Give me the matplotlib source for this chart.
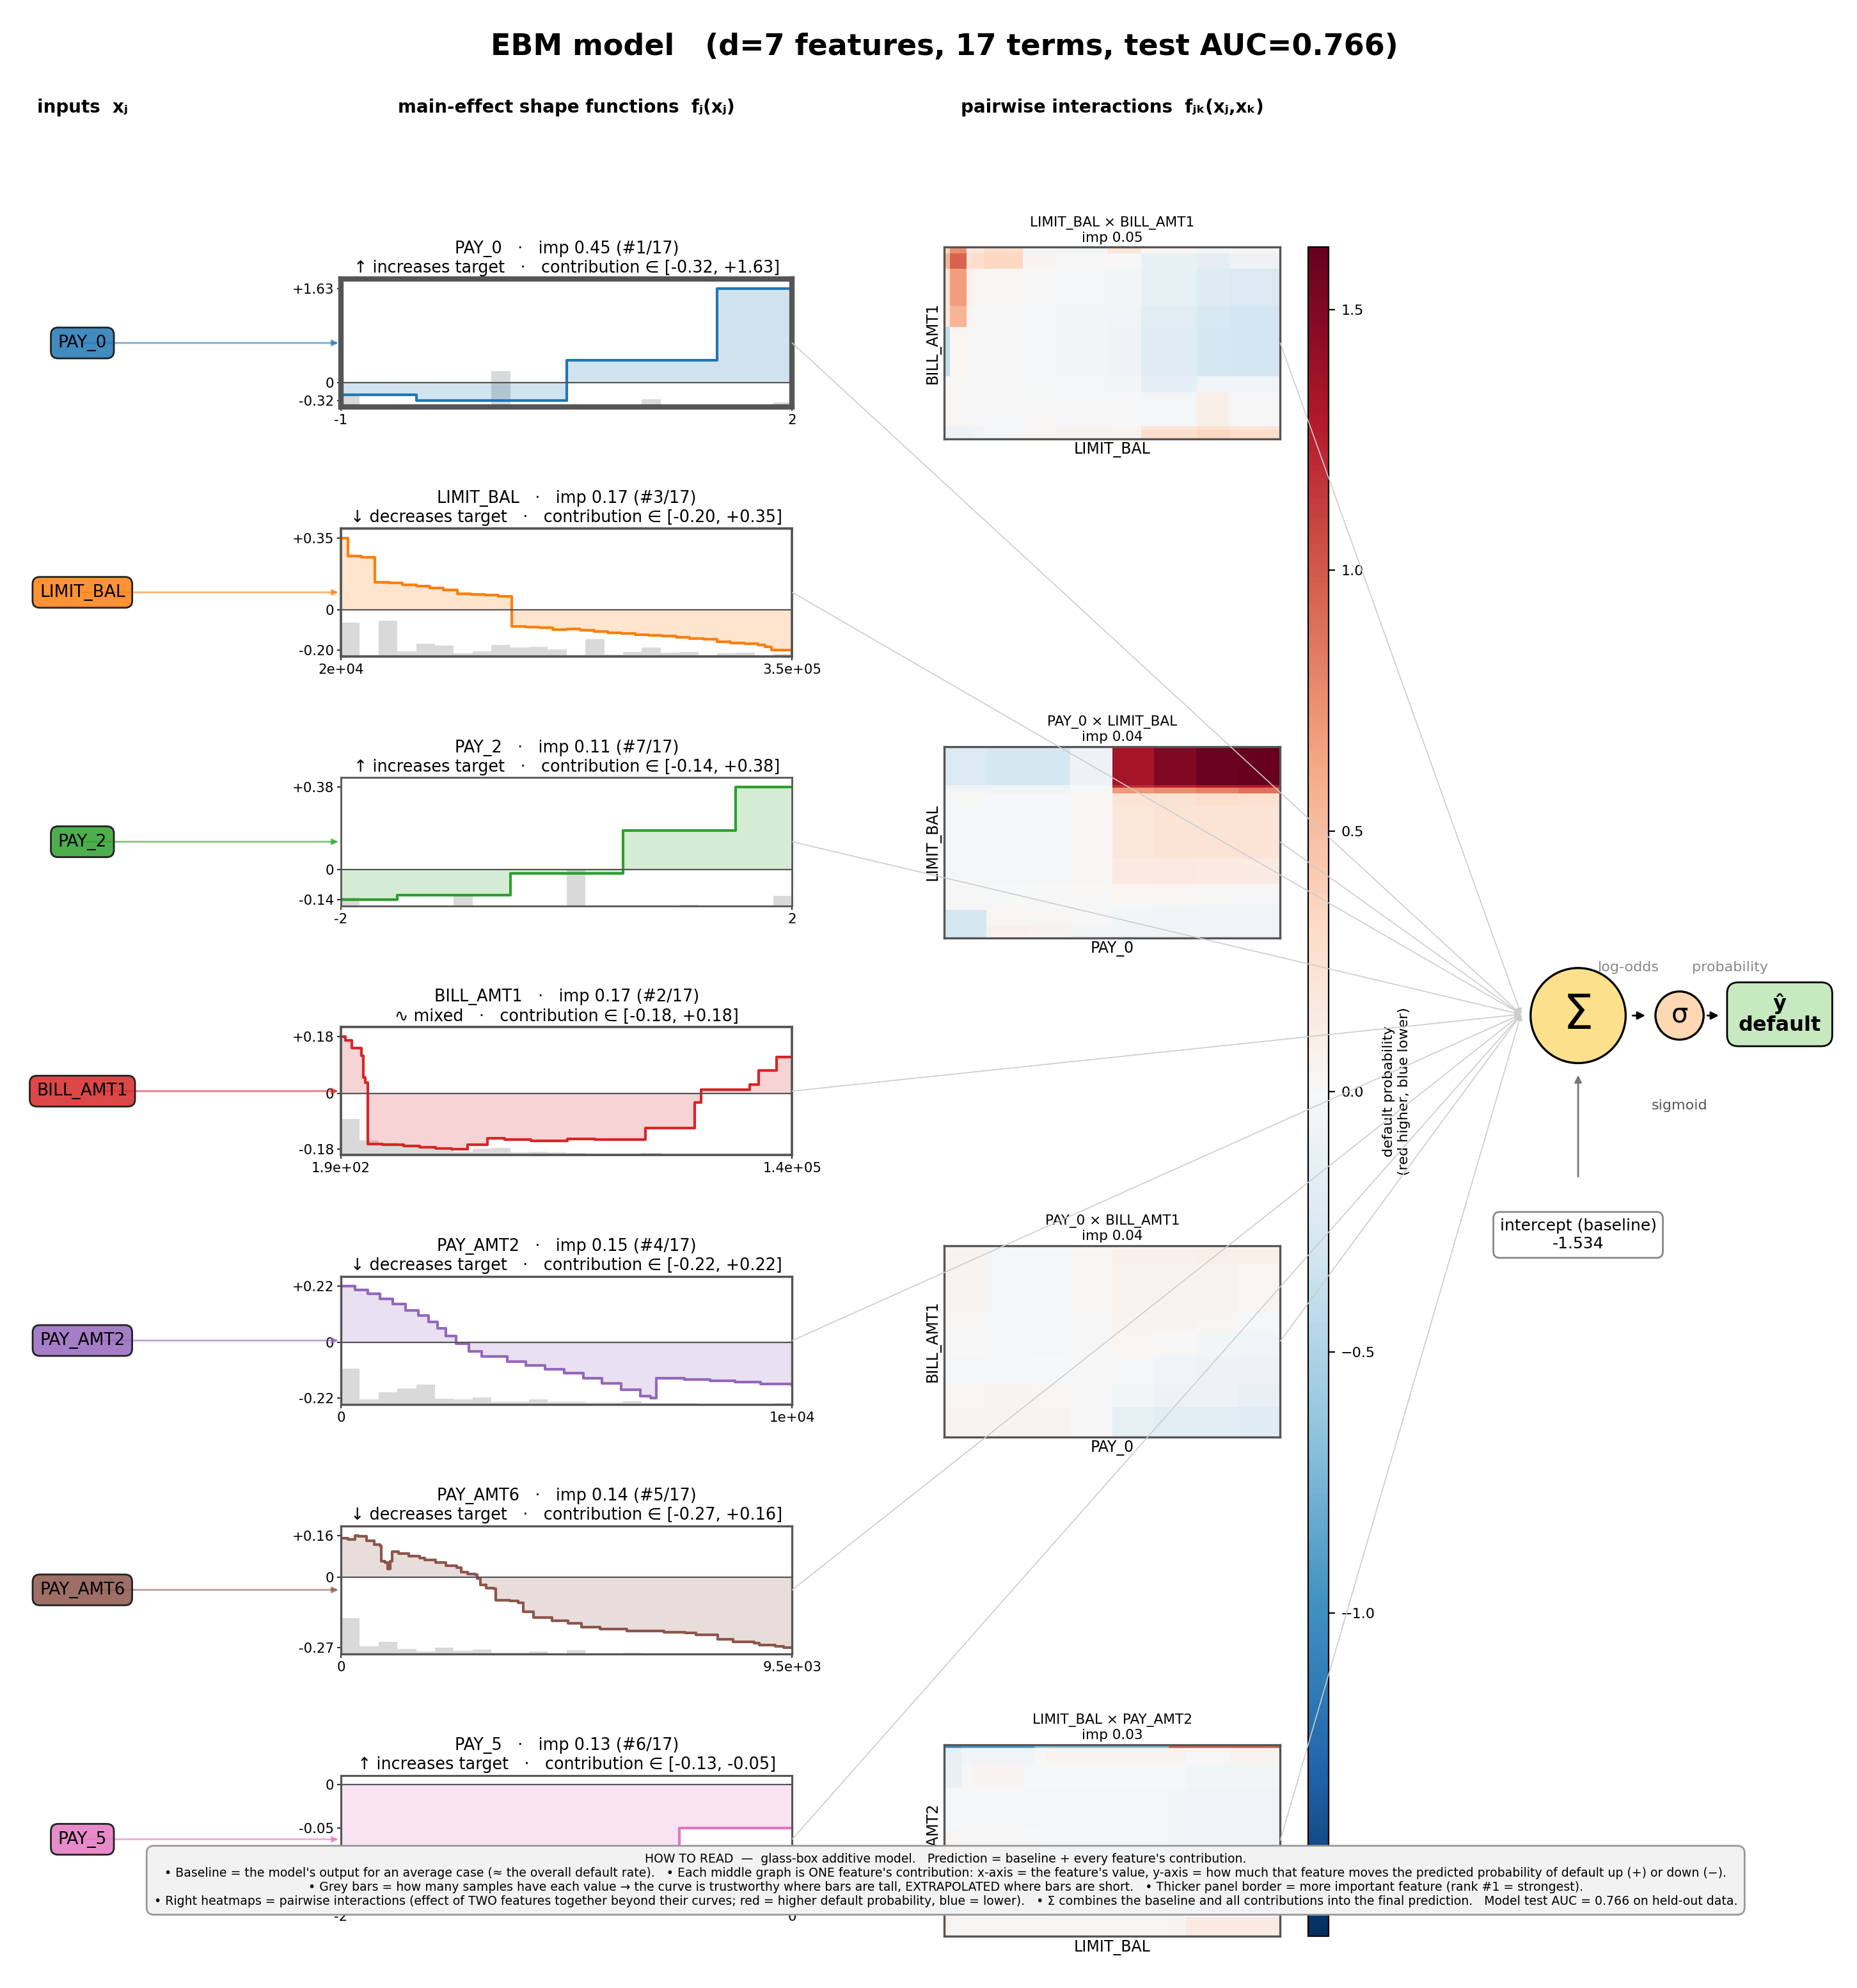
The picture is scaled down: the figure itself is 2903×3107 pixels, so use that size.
"""EBM glass-box diagram: inputs -> main-effect shape functions + pairwise heatmaps -> sum -> sigmoid."""
import numpy as np
import matplotlib
matplotlib.use("Agg")
import matplotlib.pyplot as plt
from matplotlib.patches import Circle
from matplotlib.colors import Normalize, to_rgba
from matplotlib.cm import ScalarMappable

# ---------------- data ----------------
N_TERMS = 17
AUC = 0.766
INTERCEPT = -1.534
FEATURES = ["PAY_0", "LIMIT_BAL", "PAY_2", "BILL_AMT1", "PAY_AMT2", "PAY_AMT6", "PAY_5"]
IMP = [0.45, 0.17, 0.11, 0.17, 0.15, 0.14, 0.13]
RANK = [1, 3, 7, 2, 4, 5, 6]
TREND = ["↑ increases target", "↓ decreases target", "↑ increases target", "∿ mixed",
         "↓ decreases target", "↓ decreases target", "↑ increases target"]
XRANGE = [(-1, 2), (2e4, 3.5e5), (-2, 2), (190, 1.4e5), (0, 1e4), (0, 9.5e3), (-2, 0)]

# shape functions: step start positions and contribution values (last value repeated at range end)
PAY_0_X = [-1, -0.5, 0.5, 1.5, 2]
PAY_0_Y = [-0.21, -0.32, 0.38, 1.63, 1.63]
LIMIT_BAL_X = [20000, 25000, 35000, 45000, 55000, 65000, 75000, 85000, 95000, 105000,
               115000, 125000, 135000, 145000, 155000, 165000, 175000, 185000, 195000, 205000,
               215000, 225000, 235000, 245000, 255000, 265000, 275000, 285000, 295000, 305000,
               315000, 325000, 330000, 335000, 350000]
LIMIT_BAL_Y = [0.35, 0.26, 0.255, 0.132, 0.13, 0.122, 0.114, 0.105, 0.095, 0.078,
               0.073, 0.070, 0.064, -0.082, -0.085, -0.088, -0.098, -0.093, -0.101, -0.106,
               -0.113, -0.117, -0.122, -0.126, -0.128, -0.134, -0.142, -0.145, -0.157, -0.164,
               -0.167, -0.173, -0.183, -0.198, -0.198]
PAY_2_X = [-2, -1.5, -0.5, 0.5, 1.5, 2]
PAY_2_Y = [-0.14, -0.12, -0.02, 0.18, 0.38, 0.38]
BILL_AMT1_X = [190, 1506, 3480, 6440, 7100, 7760, 8580, 13020, 19600, 24500, 29470, 34400,
               39340, 45600, 50850, 59080, 70270, 78800, 94450, 109700, 111700, 126800,
               129500, 135100, 140000]
BILL_AMT1_Y = [0.18, 0.168, 0.143, 0.12, 0.05, 0.035, -0.160, -0.163, -0.167, -0.171, -0.174, -0.176,
               -0.162, -0.142, -0.147, -0.151, -0.145, -0.147, -0.109, -0.028, 0.012, 0.029,
               0.073, 0.116, 0.116]
PAY_AMT2_X = [0, 309, 590, 871, 1152, 1433, 1713, 1938, 2135, 2331, 2556, 2837, 3118, 3680,
              4101, 4522, 4944, 5365, 5787, 6208, 6629, 6854, 6994, 7612, 8174, 8736, 9298, 10000]
PAY_AMT2_Y = [0.22, 0.205, 0.19, 0.17, 0.15, 0.125, 0.105, 0.08, 0.055, 0.025, -0.005, -0.035,
              -0.055, -0.075, -0.09, -0.105, -0.12, -0.14, -0.16, -0.185, -0.21, -0.218, -0.14,
              -0.145, -0.15, -0.155, -0.162, -0.168]
PAY_AMT6_X = [0, 145, 291, 369, 537, 704, 816, 850, 928, 984, 1040, 1073, 1207, 1431, 1655, 1766,
              1990, 2214, 2437, 2527, 2661, 2829, 2862, 2940, 3052, 3220, 3253, 3555, 3723, 3835,
              4058, 4450, 4785, 5065, 5456, 6015, 6797, 7245, 7468, 7938, 8251, 8698, 8810, 9145,
              9313, 9500]
PAY_AMT6_Y = [0.149, 0.145, 0.160, 0.156, 0.139, 0.125, 0.119, 0.062, 0.057, 0.033, 0.062, 0.098,
              0.090, 0.082, 0.074, 0.066, 0.057, 0.045, 0.037, 0.020, 0.014, 0.011, -0.004, -0.029,
              -0.041, -0.043, -0.086, -0.090, -0.096, -0.131, -0.152, -0.164, -0.176, -0.189,
              -0.197, -0.203, -0.208, -0.211, -0.219, -0.235, -0.246, -0.250, -0.257, -0.262,
              -0.268, -0.268]
PAY_5_X = [-2, -1.5, -0.5, 0]
PAY_5_Y = [-0.13, -0.13, -0.05, -0.05]
SHAPE_X = [PAY_0_X, LIMIT_BAL_X, PAY_2_X, BILL_AMT1_X, PAY_AMT2_X, PAY_AMT6_X, PAY_5_X]
SHAPE_Y = [PAY_0_Y, LIMIT_BAL_Y, PAY_2_Y, BILL_AMT1_Y, PAY_AMT2_Y, PAY_AMT6_Y, PAY_5_Y]

# sample-density histograms (24 bins over each range, relative to tallest bin)
HIST = [
    [0.30, 0, 0, 0, 0, 0, 0, 0, 1.0, 0, 0, 0, 0, 0, 0, 0, 0.22, 0, 0, 0, 0, 0, 0, 0.12],
    [0.95, 0.03, 1.0, 0.14, 0.35, 0.30, 0.09, 0.14, 0.32, 0.24, 0.26, 0.19, 0.03, 0.47, 0.05, 0.12,
     0.24, 0.11, 0.12, 0.03, 0.09, 0.10, 0.01, 0.07],
    [0.22, 0, 0, 0, 0, 0, 0.30, 0, 0, 0, 0, 0, 1.0, 0, 0, 0, 0, 0, 0.03, 0, 0, 0, 0, 0.27],
    [1.0, 0.41, 0.35, 0.25, 0.22, 0.13, 0.09, 0.18, 0.21, 0.07, 0.09, 0.07, 0.06, 0.05, 0.04, 0.04,
     0.06, 0.02, 0.02, 0.02, 0.02, 0.02, 0.01, 0.01],
    [1.0, 0.14, 0.34, 0.45, 0.55, 0.17, 0.14, 0.20, 0.07, 0.07, 0.14, 0.07, 0.07, 0.05, 0.05, 0.10,
     0.03, 0.03, 0.03, 0.02, 0.02, 0.02, 0.02, 0.04],
    [1.0, 0.21, 0.33, 0.14, 0.07, 0.18, 0.09, 0.12, 0.03, 0.03, 0.07, 0.01, 0.10, 0.02, 0.01, 0.04,
     0.005, 0.005, 0.005, 0.005, 0.005, 0.005, 0.005, 0.005],
    [0.25, 0, 0, 0, 0, 0, 0, 0, 0, 0, 0, 0, 0.05, 0, 0, 0, 0, 0, 0, 0, 0, 0, 0, 1.0],
]

# pairwise interaction terms (cell edges as fraction of each axis, rows listed top to bottom)
HM_PAIRS = [("LIMIT_BAL", "BILL_AMT1"), ("PAY_0", "LIMIT_BAL"), ("PAY_0", "BILL_AMT1"), ("LIMIT_BAL", "PAY_AMT2")]
HM_IMP = [0.05, 0.04, 0.04, 0.03]
HM1_XE = [0, 0.017, 0.066, 0.083, 0.117, 0.234, 0.332, 0.485, 0.586, 0.751, 0.851, 1.0]
HM1_YE = [0, 0.033, 0.111, 0.306, 0.418, 0.674, 0.758, 0.936, 0.953, 1.0]
HM1_Z = [[0.35, 0.75, 0.15, 0.20, 0.30, -0.03, -0.04, 0.18, 0.03, -0.04, 0.02],
         [0.55, 0.95, 0.25, 0.30, 0.35, 0.05, 0.00, 0.00, -0.12, -0.16, -0.08],
         [0.20, 0.68, 0.08, 0.03, 0.02, 0.00, -0.03, -0.05, -0.15, -0.22, -0.25],
         [0.20, 0.55, 0.02, 0.00, 0.00, -0.02, -0.04, -0.06, -0.18, -0.26, -0.30],
         [-0.40, 0.03, 0.00, 0.00, 0.00, -0.02, -0.05, -0.07, -0.20, -0.28, -0.30],
         [0.03, 0.02, 0.00, 0.00, 0.00, -0.01, -0.03, -0.04, -0.16, -0.06, -0.06],
         [0.03, 0.02, 0.00, 0.00, 0.00, 0.00, 0.00, 0.00, -0.03, 0.10, 0.00],
         [-0.08, -0.08, -0.06, -0.06, -0.02, 0.02, 0.05, 0.03, 0.20, 0.25, 0.20],
         [-0.10, -0.08, -0.08, -0.06, -0.03, 0.03, 0.06, 0.04, 0.28, 0.35, 0.30]]
HM2_XE = [0, 0.125, 0.25, 0.375, 0.5, 0.625, 0.75, 0.875, 1.0]
HM2_YE = [0, 0.201, 0.217, 0.247, 0.312, 0.585, 0.719, 0.819, 0.853, 0.936, 0.987, 1.0]
HM2_Z = [[-0.25, -0.28, -0.28, -0.10, 1.35, 1.50, 1.60, 1.62],
         [-0.10, -0.08, -0.08, -0.02, 1.20, 1.25, 1.30, 1.30],
         [-0.05, -0.06, -0.06, 0.00, 0.70, 0.75, 0.80, 0.88],
         [0.02, -0.02, -0.02, 0.02, 0.22, 0.24, 0.28, 0.26],
         [-0.02, -0.03, -0.03, 0.02, 0.20, 0.22, 0.22, 0.22],
         [-0.02, -0.03, -0.03, 0.02, 0.15, 0.16, 0.15, 0.13],
         [0.00, -0.01, 0.00, 0.00, 0.03, 0.03, 0.02, 0.00],
         [0.00, 0.02, 0.00, 0.00, -0.02, -0.03, -0.04, -0.05],
         [-0.28, 0.03, 0.02, 0.00, -0.05, -0.06, -0.06, -0.06],
         [-0.28, 0.08, 0.06, -0.05, -0.06, -0.06, -0.06, -0.06],
         [-0.25, 0.00, 0.00, -0.08, -0.12, -0.10, -0.08, -0.06]]
HM3_XE = [0, 0.125, 0.25, 0.375, 0.5, 0.625, 0.75, 0.875, 1.0]
HM3_YE = [0, 0.013, 0.095, 0.351, 0.446, 0.580, 0.725, 0.842, 1.0]
HM3_Z = [[0.05, -0.03, -0.03, 0.02, 0.00, 0.02, 0.02, 0.02],
         [0.05, -0.03, -0.03, 0.02, 0.08, 0.08, 0.10, 0.10],
         [0.04, -0.03, -0.03, 0.02, 0.06, 0.06, 0.06, 0.03],
         [0.02, -0.03, -0.03, 0.01, 0.04, 0.04, 0.02, -0.02],
         [0.00, -0.03, -0.03, 0.01, 0.03, 0.00, -0.04, -0.06],
         [-0.03, -0.03, -0.02, 0.00, -0.03, -0.06, -0.08, -0.10],
         [0.03, 0.04, 0.03, 0.00, -0.05, -0.08, -0.10, -0.12],
         [0.04, 0.05, 0.04, 0.00, -0.15, -0.18, -0.18, -0.20]]
HM4_XE = [0, 0.017, 0.051, 0.085, 0.234, 0.268, 0.302, 0.668, 0.719, 0.851, 1.0]
HM4_YE = [0, 0.016, 0.097, 0.225, 0.436, 0.903, 1.0]
HM4_Z = [[-0.95, -0.95, -0.90, -0.90, -0.90, -0.65, -0.65, 0.95, 0.95, 0.95],
         [-0.15, -0.15, -0.06, -0.06, -0.06, 0.00, 0.05, 0.05, 0.00, 0.04],
         [-0.12, -0.12, 0.00, 0.05, -0.02, -0.02, -0.02, -0.02, -0.05, -0.05],
         [-0.03, -0.02, -0.02, -0.02, -0.03, -0.03, -0.03, -0.04, -0.06, -0.06],
         [0.05, 0.02, 0.00, 0.00, 0.00, -0.02, -0.03, -0.05, -0.06, -0.06],
         [0.10, 0.02, 0.02, 0.02, 0.02, 0.02, 0.02, 0.05, 0.15, 0.15]]
HM_XE = [HM1_XE, HM2_XE, HM3_XE, HM4_XE]
HM_YE = [HM1_YE, HM2_YE, HM3_YE, HM4_YE]
HM_Z = [HM1_Z, HM2_Z, HM3_Z, HM4_Z]

FOOTER = ("HOW TO READ  —  glass-box additive model.   Prediction = baseline + every feature's contribution.\n"
          "• Baseline = the model's output for an average case (≈ the overall default rate).   "
          "• Each middle graph is ONE feature's contribution: x-axis = the feature's value, y-axis = how much that "
          "feature moves the predicted probability of default up (+) or down (−).\n"
          "• Grey bars = how many samples have each value → the curve is trustworthy where bars are tall, "
          "EXTRAPOLATED where bars are short.   • Thicker panel border = more important feature (rank #1 = strongest).\n"
          "• Right heatmaps = pairwise interactions (effect of TWO features together beyond their curves; "
          "red = higher default probability, blue = lower).   • Σ combines the baseline and all contributions into "
          f"the final prediction.   Model test AUC = {AUC:.3f} on held-out data.")

# ---------------- layout (units = reference px / 1.98) ----------------
W, H = 1465, 1568
fig = plt.figure(figsize=(2903 / 200, 3107 / 200), dpi=200)
def rect(x0, y0, x1, y1): return [x0 / W, 1 - y1 / H, (x1 - x0) / W, (y1 - y0) / H]

PX0, PX1, PTOP, PSTEP, PH = 269, 625, 220, 196.7, 101
HX0, HX1, HTOP, HSTEP, HH = 745, 1010, 195, 393.7, 151
SUM_IN = (1200, 800)
COLORS = plt.cm.tab10.colors[:7]
SPINE = "#555555"

# main-effect panels
lo_imp, hi_imp = min(IMP), max(IMP)
for i, f in enumerate(FEATURES):
    y0 = PTOP + i * PSTEP
    ax = fig.add_axes(rect(PX0, y0, PX1, y0 + PH))
    xs, ys, c = SHAPE_X[i], SHAPE_Y[i], COLORS[i]
    lo, hi = min(ys), max(ys)
    top, bot = max(hi, 0), min(lo, 0)
    span = top - bot
    ylo, yhi = bot - 0.055 * span, top + 0.085 * span
    xa, xb = XRANGE[i]
    hist = np.array(HIST[i])
    bw = (xb - xa) / len(hist)
    ax.bar(xa + bw * np.arange(len(hist)), hist * 0.28 * (yhi - ylo), width=bw, bottom=ylo,
           align="edge", color="#d9d9d9", lw=0)
    ax.fill_between(xs, ys, 0, step="post", color=c, alpha=0.2, lw=0)
    ax.step(xs, ys, where="post", color=c, lw=1.5)
    ax.axhline(0, color=SPINE, lw=0.8)
    ax.set_xlim(xa, xb); ax.set_ylim(ylo, yhi)
    yt = sorted(set([lo, 0.0, hi]))
    ax.set_yticks(yt, ["0" if v == 0 else f"{v:+.2f}" for v in yt])
    ax.set_xticks([xa, xb], [f"{xa:.2g}", f"{xb:.2g}"])
    ax.tick_params(labelsize=7.7, length=2, width=0.6, pad=2)
    ax.set_title(f"{f}   ·   imp {IMP[i]:.2f} (#{RANK[i]}/{N_TERMS})\n"
                 f"{TREND[i]}   ·   contribution ∈ [{lo:+.2f}, {hi:+.2f}]", fontsize=9.2, pad=3.5)
    lw = 1.0 + 2.0 * (IMP[i] - lo_imp) / (hi_imp - lo_imp)
    for s in ax.spines.values(): s.set_color(SPINE); s.set_linewidth(lw)

# interaction heatmaps
vlim = max(np.abs(np.array(z)).max() for z in HM_Z)
norm = Normalize(-vlim, vlim)
for j, (a, b) in enumerate(HM_PAIRS):
    y0 = HTOP + j * HSTEP
    ax = fig.add_axes(rect(HX0, y0, HX1, y0 + HH))
    ax.pcolormesh(HM_XE[j], HM_YE[j], np.array(HM_Z[j]), cmap="RdBu_r", norm=norm)
    ax.set_xlim(0, 1); ax.set_ylim(1, 0)
    ax.set_xticks([]); ax.set_yticks([])
    ax.set_title(f"{a} × {b}\nimp {HM_IMP[j]:.2f}", fontsize=7.8, pad=3)
    ax.set_xlabel(a, fontsize=8.5, labelpad=2); ax.set_ylabel(b, fontsize=8.5, labelpad=2)
    for s in ax.spines.values(): s.set_color(SPINE); s.set_linewidth(1.2)

cax = fig.add_axes(rect(1032, 195, 1048, 1527))
cb = fig.colorbar(ScalarMappable(norm, "RdBu_r"), cax=cax)
cb.ax.tick_params(labelsize=8)
cb.set_label("default probability\n(red higher, blue lower)", fontsize=8)

# overlay: inputs, connections, aggregation
ov = fig.add_axes([0, 0, 1, 1])
ov.set_xlim(0, W); ov.set_ylim(H, 0); ov.axis("off"); ov.set_zorder(10)

ov.text(745, 37, f"EBM model   (d={len(FEATURES)} features, {N_TERMS} terms, test AUC={AUC:.3f})",
        ha="center", va="center", fontsize=16.5, weight="bold")
ov.text(65, 85, "inputs  xⱼ", ha="center", va="center", fontsize=10, weight="bold")
ov.text((PX0 + PX1) / 2, 85, "main-effect shape functions  fⱼ(xⱼ)", ha="center", va="center",
        fontsize=10, weight="bold")
ov.text((HX0 + HX1) / 2, 85, "pairwise interactions  fⱼₖ(xⱼ,xₖ)", ha="center", va="center",
        fontsize=10, weight="bold")

line_kw = dict(arrowstyle="-|>", color="#cccccc", lw=0.6, mutation_scale=7, shrinkA=0, shrinkB=0)
for i, f in enumerate(FEATURES):
    yc = PTOP + i * PSTEP + PH / 2
    ov.annotate("", xy=(PX0 - 2, yc), xytext=(65, yc),
                arrowprops=dict(arrowstyle="-|>", color=COLORS[i], alpha=0.6, lw=1.0,
                                mutation_scale=7, shrinkA=0, shrinkB=0), zorder=1)
    ov.text(65, yc, f, ha="center", va="center", fontsize=9.5, zorder=3,
            bbox=dict(boxstyle="round,pad=0.42", fc=to_rgba(COLORS[i], 0.85), ec="#222222", lw=1))
    ov.annotate("", xy=SUM_IN, xytext=(PX1, yc), arrowprops=line_kw)
for j in range(len(HM_PAIRS)):
    ov.annotate("", xy=SUM_IN, xytext=(HX1, HTOP + j * HSTEP + HH / 2), arrowprops=line_kw)

ov.add_patch(Circle((1245, 801), 37.5, fc="#fde08b", ec="k", lw=1.2))
ov.text(1245, 801, "Σ", ha="center", va="center", fontsize=27)
ov.add_patch(Circle((1325, 801), 19, fc="#fdd8b3", ec="k", lw=1.2))
ov.text(1325, 800, "σ", ha="center", va="center", fontsize=15)
ov.text(1404, 800, "ŷ\ndefault", ha="center", va="center", fontsize=11.5, weight="bold", linespacing=1.05,
        bbox=dict(boxstyle="round,pad=0.55", fc="#c7e9c0", ec="k", lw=1))
head_kw = dict(arrowstyle="-|>", color="k", lw=1, mutation_scale=9, shrinkA=0, shrinkB=0)
ov.annotate("", xy=(1298, 801), xytext=(1288, 801), arrowprops=head_kw)
ov.annotate("", xy=(1356, 801), xytext=(1347, 801), arrowprops=head_kw)
ov.text(1285, 763, "log-odds", ha="center", va="center", fontsize=8, color="#888888")
ov.text(1365, 763, "probability", ha="center", va="center", fontsize=8, color="#888888")
ov.text(1325, 872, "sigmoid", ha="center", va="center", fontsize=8, color="#555555")
ov.annotate("", xy=(1245, 848), xytext=(1245, 928),
            arrowprops=dict(arrowstyle="-|>", color="#777777", lw=1, mutation_scale=8, shrinkA=0, shrinkB=0))
ov.text(1245, 974, f"intercept (baseline)\n{INTERCEPT:.3f}", ha="center", va="center", fontsize=9,
        bbox=dict(boxstyle="round,pad=0.4", fc="white", ec="#888888", lw=1))

ov.text(746, 1483, FOOTER, ha="center", va="center", fontsize=6.8, multialignment="center", zorder=20,
        bbox=dict(boxstyle="round,pad=0.6", fc="#f2f2f2", ec="#999999", lw=1))

fig.savefig("out.png", dpi=200)
print("wrote out.png")
